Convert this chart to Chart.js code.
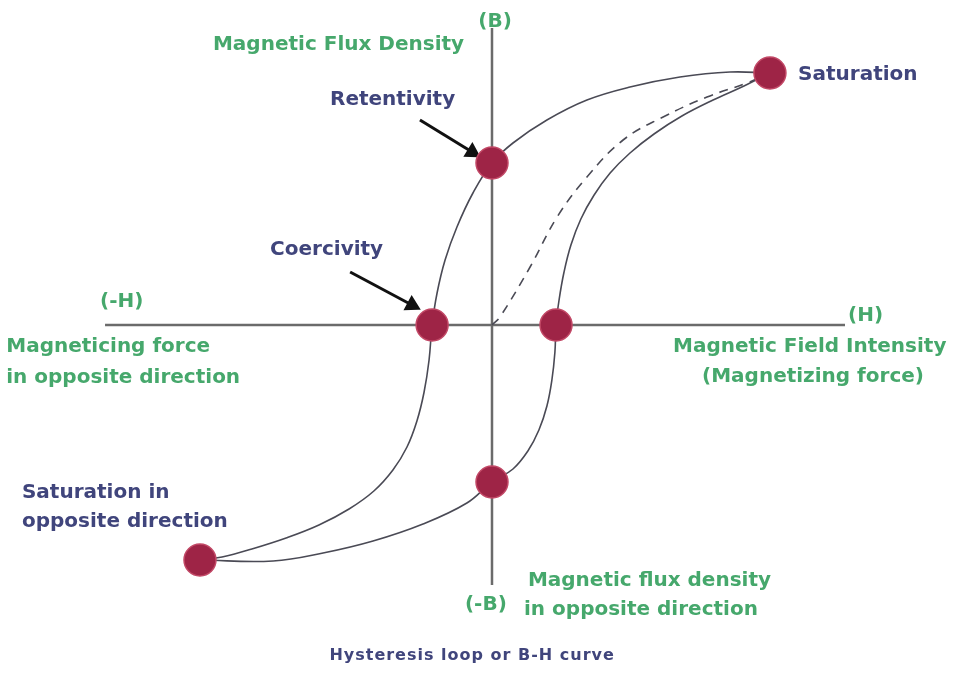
<!DOCTYPE html>
<html>
<head>
<meta charset="utf-8">
<title>Hysteresis loop</title>
<script src="https://cdn.jsdelivr.net/npm/chart.js@4.4.1/dist/chart.umd.min.js"></script>
<style>
  html, body { margin: 0; padding: 0; background: #fff; }
  #wrap { width: 979px; height: 673px; position: relative; }
</style>
</head>
<body>
<div id="wrap"><canvas id="bhChart"></canvas></div>
<script>
// Data (H = field intensity, B = flux density, arbitrary units)
const upperH = [10.07, 8.62, 6.81, 5.0, 3.44, 1.99, 0.76, 0, -0.69, -1.27, -1.70, -1.99, -2.17, -2.28, -2.46, -2.72, -3.08, -3.59, -4.28, -5.18, -6.27, -7.46, -8.70, -9.78, -10.58];
const upperB = [10.08, 10.12, 9.92, 9.52, 9.0, 8.2, 7.28, 6.48, 5.28, 3.92, 2.6, 1.28, 0, -1.4, -2.68, -3.84, -4.88, -5.8, -6.64, -7.36, -8.0, -8.52, -8.96, -9.28, -9.4];

const lowerH = [-10.58, -7.93, -6.12, -4.31, -2.5, -0.91, 0, 0.76, 1.30, 1.70, 1.99, 2.17, 2.28, 2.32, 2.43, 2.61, 2.86, 3.22, 3.70, 4.28, 5.0, 5.87, 6.88, 8.01, 9.13, 10.07];
const lowerB = [-9.4, -9.44, -9.12, -8.64, -7.96, -7.12, -6.28, -5.76, -5.04, -4.2, -3.24, -2.2, -1.08, 0, 1.0, 2.12, 3.2, 4.24, 5.2, 6.08, 6.88, 7.64, 8.36, 9.0, 9.56, 10.08];

const initH = [0, 0.29, 1.38, 2.36, 3.44, 4.75, 6.20, 7.79, 9.24, 10.07];
const initB = [0, 0.32, 2.32, 4.32, 5.92, 7.4, 8.32, 9.12, 9.68, 10.08];

// key points: saturation, retentivity, coercivity, +coercive, -retentivity, -saturation
const keyH = [10.07, 0, -2.17, 2.32, 0, -10.58];
const keyB = [10.08, 6.48, 0, 0, -6.28, -9.4];

// axis extents
const hAxisH = [-14.02, 12.79];
const bAxisB = [11.88, -10.4];

// pointer arrows [from, to]
const retArrowH = [-2.61, -0.72];
const retArrowB = [8.2, 6.92];
const coeArrowH = [-5.14, -2.9];
const coeArrowB = [2.12, 0.8];

const toPts = (xs, ys) => xs.map((x, i) => ({x: x, y: ys[i]}));

const green = '#46a86c';
const navy = '#40457c';

const notes = [
  {t: '(B)', x: 0.11, y: 12.12, c: green, a: 'center'},
  {t: 'Magnetic Flux Density', x: -10.11, y: 11.2, c: green},
  {t: 'Retentivity', x: -5.87, y: 9.0, c: navy},
  {t: 'Saturation', x: 11.09, y: 10.0, c: navy},
  {t: 'Coercivity', x: -8.04, y: 3.0, c: navy},
  {t: '(-H)', x: -14.2, y: 0.92, c: green},
  {t: 'Magneticing force', x: -17.6, y: -0.88, c: green},
  {t: 'in opposite direction', x: -17.6, y: -2.12, c: green},
  {t: '(H)', x: 12.9, y: 0.36, c: green},
  {t: 'Magnetic Field Intensity', x: 6.56, y: -0.88, c: green},
  {t: '(Magnetizing force)', x: 7.61, y: -2.08, c: green},
  {t: 'Saturation in', x: -17.03, y: -6.72, c: navy},
  {t: 'opposite direction', x: -17.03, y: -7.88, c: navy},
  {t: '(-B)', x: -0.98, y: -11.2, c: green},
  {t: 'Magnetic flux density', x: 1.3, y: -10.24, c: green},
  {t: 'in opposite direction', x: 1.16, y: -11.4, c: green},
  {t: 'Hysteresis loop or B-H curve', x: -0.72, y: -13.24, c: navy, a: 'center', f: 'bold 16px "DejaVu Sans"', ls: '1px'}
];

const textPlugin = {
  id: 'notes',
  afterDatasetsDraw(chart){
    const c = chart.ctx;
    const sx = chart.scales.x, sy = chart.scales.y;
    c.save();
    c.textBaseline = 'middle';
    notes.forEach(n => {
      c.font = n.f || 'bold 20px "DejaVu Sans"';
      c.letterSpacing = n.ls || '0px';
      c.fillStyle = n.c;
      c.textAlign = n.a || 'left';
      c.fillText(n.t, sx.getPixelForValue(n.x), sy.getPixelForValue(n.y));
    });
    c.restore();
  }
};

// arrowhead rotation follows the arrow's on-screen direction
function headRotation(ctx){
  const d = ctx.dataset.data;
  const sx = ctx.chart.scales.x, sy = ctx.chart.scales.y;
  const dx = sx.getPixelForValue(d[1].x) - sx.getPixelForValue(d[0].x);
  const dy = sy.getPixelForValue(d[1].y) - sy.getPixelForValue(d[0].y);
  return Math.atan2(dy, dx) * 180 / Math.PI + 90;
}

function arrow(xs, ys){
  return {
    data: toPts(xs, ys),
    borderColor: '#111',
    backgroundColor: '#111',
    borderWidth: 3,
    pointStyle: 'triangle',
    pointRadius: ctx => ctx.dataIndex === 1 ? 7 : 0,
    pointRotation: headRotation,
    showLine: true,
    order: 1
  };
}

function curve(xs, ys, dash){
  return {
    data: toPts(xs, ys),
    borderColor: '#4a4a55',
    borderWidth: 1.6,
    borderDash: dash || [],
    pointRadius: 0,
    tension: 0.4,
    showLine: true,
    order: 2
  };
}

const ctx = document.getElementById('bhChart').getContext('2d');
new Chart(ctx, {
  type: 'scatter',
  data: {
    datasets: [
      {
        data: toPts(keyH, keyB),
        backgroundColor: '#9e2446',
        borderColor: '#c24866',
        borderWidth: 1.5,
        pointRadius: 16,
        showLine: false,
        order: 0
      },
      arrow(retArrowH, retArrowB),
      arrow(coeArrowH, coeArrowB),
      curve(upperH, upperB),
      curve(lowerH, lowerB),
      curve(initH, initB, [9, 7]),
      {
        data: toPts(hAxisH, [0, 0]),
        borderColor: '#6b6b6b', borderWidth: 2.5, pointRadius: 0, showLine: true, order: 3
      },
      {
        data: toPts([0, 0], bAxisB),
        borderColor: '#6b6b6b', borderWidth: 2.5, pointRadius: 0, showLine: true, order: 3
      }
    ]
  },
  options: {
    responsive: true,
    maintainAspectRatio: false,
    animation: false,
    layout: { padding: 0, autoPadding: false },
    clip: false,
    plugins: {
      legend: { display: false },
      tooltip: { enabled: false }
    },
    scales: {
      x: { type: 'linear', display: false, min: -17.826, max: 17.645 },
      y: { type: 'linear', display: false, min: -13.92, max: 13 }
    }
  },
  plugins: [textPlugin]
});
</script>
</body>
</html>
